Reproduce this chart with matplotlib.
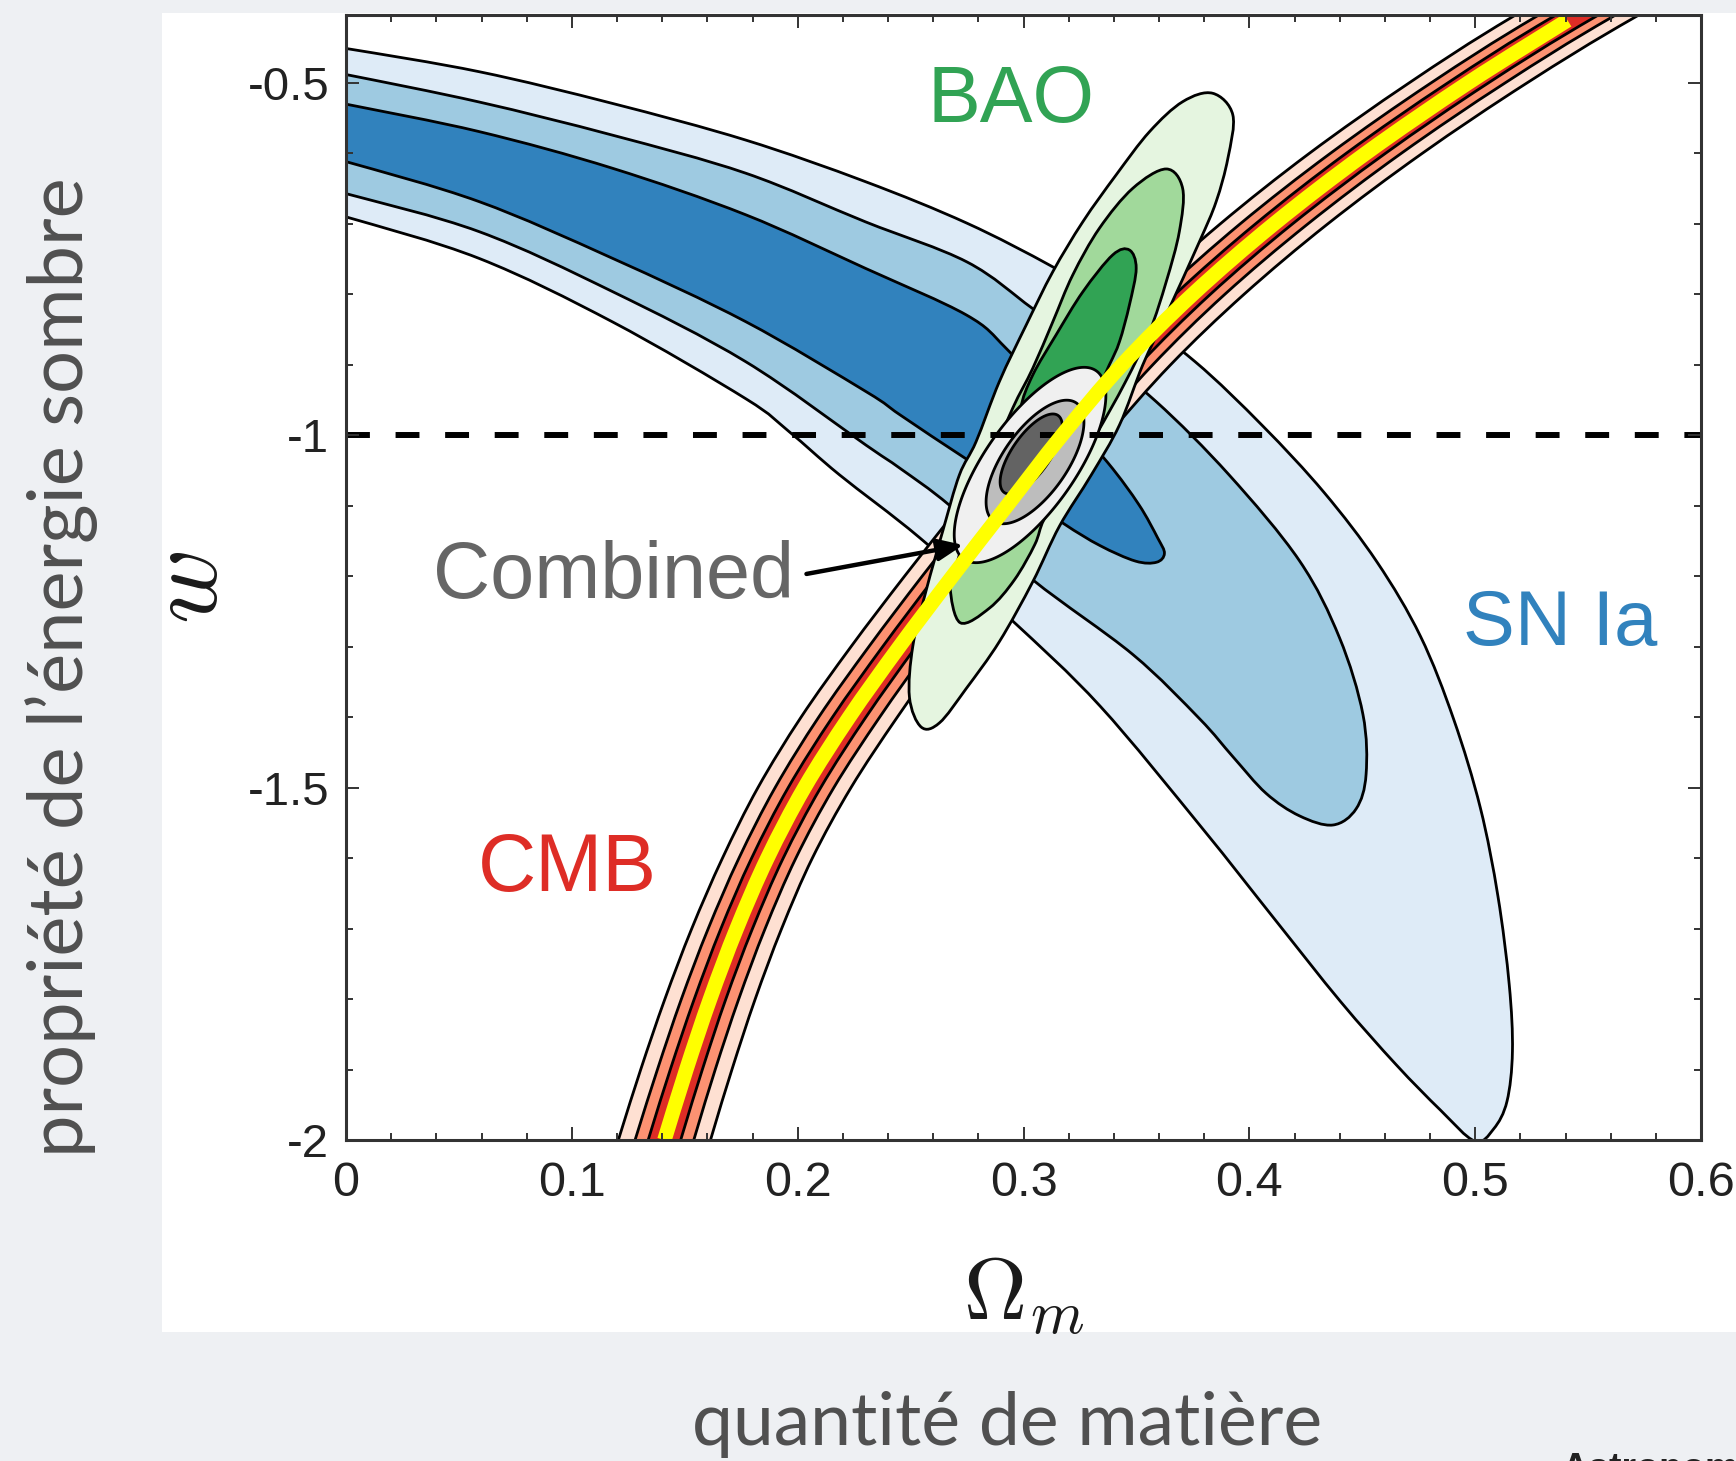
import numpy as np
import matplotlib
matplotlib.use("Agg")
import matplotlib.pyplot as plt
from matplotlib.path import Path
from matplotlib.patches import PathPatch, Rectangle, Polygon
from matplotlib.ticker import MultipleLocator

plt.rcParams['font.family'] = ['Liberation Sans', 'DejaVu Sans']
plt.rcParams['mathtext.fontset'] = 'cm'
plt.rcParams['axes.unicode_minus'] = False

W, H, DPI = 1736, 1461, 100

# ---------------- data (Omega_m, w) ----------------
# SN Ia contours: outline from the left edge along the top, round the tip, back along the bottom
sn99_om = [-0.03, 0.000, 0.059, 0.118, 0.177, 0.230, 0.275, 0.313, 0.345, 0.3761, 0.4060, 0.4331, 0.4566,
           0.4758, 0.4905, 0.5023, 0.5101, 0.5151, 0.5165, 0.5141, 0.5082, 0.4998, 0.4846, 0.4650, 0.4404,
           0.4110, 0.3790, 0.3339, 0.2941, 0.2539, 0.2185, 0.1963, 0.177, 0.118, 0.059, 0.000, -0.03]
sn99_w = [-0.437, -0.451, -0.484, -0.529, -0.581, -0.640, -0.699, -0.761, -0.822, -0.8958, -0.9869, -1.0811,
          -1.1801, -1.2853, -1.4031, -1.5287, -1.6544, -1.7800, -1.8743, -1.9450, -1.9842, -2.0015, -1.9575,
          -1.8931, -1.8036, -1.6858, -1.5570, -1.3842, -1.2602, -1.145, -1.056, -0.995, -0.948, -0.839,
          -0.749, -0.690, -0.665]

sn95_om = [-0.03, 0.000, 0.059, 0.118, 0.177, 0.230, 0.275, 0.304, 0.330, 0.3587, 0.391, 0.4222, 0.4399,
           0.4503, 0.4517, 0.4473, 0.437, 0.4222, 0.4074, 0.3927, 0.3779, 0.3484, 0.3041, 0.2675, 0.2454,
           0.2303, 0.177, 0.118, 0.059, 0.000, -0.03]
sn95_w = [-0.470, -0.488, -0.527, -0.574, -0.628, -0.697, -0.754, -0.820, -0.880, -0.952, -1.056, -1.178, -1.287,
          -1.396, -1.481, -1.530, -1.553, -1.540, -1.508, -1.456, -1.402, -1.311, -1.205, -1.100, -1.047,
          -1.014, -0.8955, -0.796, -0.711, -0.657, -0.633]

sn68_om = [-0.03, 0.000, 0.059, 0.118, 0.177, 0.230, 0.2746, 0.2923, 0.3152, 0.3373, 0.3511, 0.3594, 0.3624,
           0.3589, 0.3496, 0.3339, 0.3177, 0.2956, 0.2742, 0.2454, 0.2303, 0.177, 0.118, 0.059, 0.000, -0.03]
sn68_w = [-0.511, -0.530, -0.569, -0.621, -0.687, -0.763, -0.829, -0.8765, -0.9586, -1.0387, -1.0984, -1.1455,
          -1.1675, -1.1801, -1.1785, -1.1565, -1.1251, -1.0749, -1.0326, -0.9711, -0.938, -0.8387, -0.7488,
          -0.6684, -0.6116, -0.587]

# BAO contours (closed outlines)
bao99_om = [0.3838, 0.3927, 0.3905, 0.3853, 0.3779, 0.3632, 0.3528, 0.3425, 0.3300, 0.3159, 0.3041, 0.2893,
            0.2746, 0.2628, 0.2547, 0.2495, 0.2510, 0.2569, 0.2643, 0.2716, 0.2790, 0.2893, 0.3012, 0.3130,
            0.3263, 0.3410, 0.3558, 0.3705]
bao99_w = [-0.5146, -0.5454, -0.6069, -0.6684, -0.7252, -0.8292, -0.9002, -0.9853, -1.0563, -1.129, -1.2078,
           -1.2928, -1.3595, -1.408, -1.414, -1.3716, -1.299, -1.220, -1.1352, -1.0563, -1.009, -0.9238,
           -0.8434, -0.7677, -0.6968, -0.6305, -0.5691, -0.5265]

bao95_om = [0.3632, 0.3705, 0.3690, 0.3632, 0.3558, 0.3450, 0.3320, 0.3180, 0.3090, 0.3050, 0.2960, 0.2850,
            0.2720, 0.2675, 0.2705, 0.2780, 0.2850, 0.2952, 0.3041, 0.3130, 0.3218, 0.3336, 0.3484]
bao95_w = [-0.622, -0.650, -0.711, -0.782, -0.853, -0.925, -1.000, -1.075, -1.120, -1.155, -1.205, -1.245,
           -1.266, -1.2148, -1.1816, -1.100, -1.040, -0.9616, -0.9049, -0.8387, -0.7725, -0.7062, -0.6494]

bao68_om = [0.3469, 0.3499, 0.3469, 0.3425, 0.3380, 0.3300, 0.3150, 0.3020, 0.2990, 0.3041, 0.3144, 0.3263, 0.3395]
bao68_w = [-0.737, -0.763, -0.815, -0.867, -0.900, -0.950, -0.995, -0.990, -0.960, -0.9144, -0.8576, -0.7962, -0.744]

# CMB band: centre line and horizontal half-widths of each level
cmb_w = [-2.15, -2.0, -1.9, -1.8, -1.7, -1.6, -1.5, -1.4, -1.3, -1.2, -1.1, -1.0, -0.9, -0.8, -0.7, -0.6,
         -0.5, -0.404, -0.25]
cmb_om = [0.1268, 0.141, 0.1507, 0.1612, 0.1730, 0.1866, 0.2030, 0.2228, 0.2450, 0.2685, 0.2927, 0.3170,
          0.3436, 0.3749, 0.4109, 0.4515, 0.4968, 0.5449, 0.6304]
cmb_hw99 = [0.0208, 0.0204, 0.0202, 0.0200, 0.0199, 0.0199, 0.0206, 0.0213, 0.0214, 0.0212, 0.0208, 0.0205,
            0.0215, 0.0227, 0.0238, 0.0250, 0.0261, 0.0273, 0.0290]
cmb_hw95 = [0.0133, 0.0130, 0.0128, 0.0127, 0.0126, 0.0126, 0.0130, 0.0135, 0.0135, 0.0134, 0.0131, 0.0129,
            0.0136, 0.0142, 0.0150, 0.0157, 0.0164, 0.0170, 0.0180]
cmb_hw68 = [0.0073, 0.0072, 0.0071, 0.0070, 0.0070, 0.0070, 0.0072, 0.0074, 0.0074, 0.0074, 0.0073, 0.0071,
            0.0075, 0.0078, 0.0082, 0.0087, 0.0090, 0.0094, 0.0099]

# yellow highlighted curve
yellow_w = [-2.0, -1.9, -1.8, -1.7, -1.6, -1.5, -1.4, -1.3, -1.2, -1.1, -1.0, -0.9, -0.8, -0.7, -0.6, -0.5, -0.411]
yellow_om = [0.141, 0.1507, 0.1612, 0.1730, 0.1866, 0.2030, 0.2228, 0.2450, 0.2685, 0.2927, 0.3170, 0.3436,
             0.3749, 0.4109, 0.4515, 0.4968, 0.5409]

# Combined contours: centre, end of long axis, end of short axis (outer, middle, inner)
comb_c_om = [0.3029, 0.3051, 0.3034]
comb_c_w = [-1.0421, -1.0378, -1.0265]
comb_a_om = [0.3322, 0.3234, 0.3153]
comb_a_w = [-0.9084, -0.9541, -0.9718]
comb_b_om = [0.3193, 0.3167, 0.3103]
comb_b_w = [-1.0787, -1.0639, -1.0419]

w_lcdm = -1.0
arrow_tail = (0.2039, -1.1967)
arrow_head = (0.2733, -1.1556)

xticks = [0, 0.1, 0.2, 0.3, 0.4, 0.5, 0.6]
xtick_labels = ['0', '0.1', '0.2', '0.3', '0.4', '0.5', '0.6']
yticks = [-2, -1.5, -1, -0.5]
ytick_labels = ['-2', '-1.5', '-1', '-0.5']

# ---------------- colours ----------------
blues = ['#deebf7', '#9ecae1', '#3182bd']
greens = ['#e5f5e0', '#a1d99b', '#31a354']
reds = ['#fee0d2', '#fc9272', '#de2d26']
grays = ['#f0f0f0', '#bdbdbd', '#636363']


def smooth_path(pieces, close=True):
    """Catmull-Rom curves through each piece, pieces joined by straight segments."""
    verts, codes = [], []
    for k, pts in enumerate(pieces):
        pts = np.asarray(pts, float)
        n = len(pts)
        verts.append(pts[0])
        codes.append(Path.MOVETO if k == 0 else Path.LINETO)
        for i in range(n - 1):
            p1, p2 = pts[i], pts[i + 1]
            p0 = pts[i - 1] if i > 0 else p1
            p3 = pts[i + 2] if i + 2 < n else p2
            verts += [p1 + (p2 - p0) / 6.0, p2 - (p3 - p1) / 6.0, p2]
            codes += [Path.CURVE4] * 3
    if close:
        verts.append(pieces[0][0])
        codes.append(Path.CLOSEPOLY)
    return Path(verts, codes)


def closed_smooth(pts):
    pts = np.asarray(pts, float)
    n = len(pts)
    verts, codes = [pts[0]], [Path.MOVETO]
    for i in range(n):
        p0, p1, p2, p3 = pts[(i - 1) % n], pts[i], pts[(i + 1) % n], pts[(i + 2) % n]
        verts += [p1 + (p2 - p0) / 6.0, p2 - (p3 - p1) / 6.0, p2]
        codes += [Path.CURVE4] * 3
    verts.append(pts[0]); codes.append(Path.CLOSEPOLY)
    return Path(verts, codes)


fig = plt.figure(figsize=(W / DPI, H / DPI), dpi=DPI, facecolor='#eef0f3')
fig.patches.append(Rectangle((162 / W, 1 - 1332 / H), 1 - 162 / W, (1332 - 13) / H,
                             transform=fig.transFigure, facecolor='white', edgecolor='none', zorder=-5))
ax = fig.add_axes([346 / W, 1 - 1140 / H, (1701 - 346) / W, (1140 - 15) / H])
ax.set_zorder(1)
ax.set_xlim(0, 0.6)
ax.set_ylim(-2, -0.4035)

LW = 2.0
# SN Ia
for (om, ww), col, z in zip([(sn99_om, sn99_w), (sn95_om, sn95_w), (sn68_om, sn68_w)], blues, [1, 2, 3]):
    p = smooth_path([list(zip(om, ww))])
    ax.add_patch(PathPatch(p, facecolor=col, edgecolor='black', lw=LW, zorder=z))

# CMB
c = np.array(cmb_om)
cw = np.array(cmb_w)
for hw, col, z in zip([cmb_hw99, cmb_hw95, cmb_hw68], reds, [4, 5, 6]):
    hw = np.array(hw)
    left = np.column_stack([c - hw, cw])
    right = np.column_stack([c + hw, cw])[::-1]
    p = smooth_path([left, right])
    ax.add_patch(PathPatch(p, facecolor=col, edgecolor='black', lw=LW, zorder=z))

# BAO
for (om, ww), col, z in zip([(bao99_om, bao99_w), (bao95_om, bao95_w), (bao68_om, bao68_w)], greens, [7, 8, 9]):
    p = closed_smooth(list(zip(om, ww)))
    ax.add_patch(PathPatch(p, facecolor=col, edgecolor='black', lw=LW, zorder=z))

# Combined
t = np.linspace(0, 2 * np.pi, 240, endpoint=False)
for i, (col, z) in enumerate(zip(grays, [10, 11, 12])):
    cx, cy = comb_c_om[i], comb_c_w[i]
    ax_, ay_ = comb_a_om[i] - cx, comb_a_w[i] - cy
    bx_, by_ = comb_b_om[i] - cx, comb_b_w[i] - cy
    xs = cx + np.cos(t) * ax_ + np.sin(t) * bx_
    ys = cy + np.cos(t) * ay_ + np.sin(t) * by_
    ax.add_patch(Polygon(np.column_stack([xs, ys]), closed=True, facecolor=col, edgecolor='black',
                         lw=LW, zorder=z))

# w = -1 dashed line
ax.axhline(w_lcdm, color='black', lw=4.3, dashes=(4, 4.3), zorder=13)

# yellow curve
yp = smooth_path([list(zip(yellow_om, yellow_w))], close=False)
ax.add_patch(PathPatch(yp, facecolor='none', edgecolor='#ffff00', lw=10.5, capstyle='butt',
                       zorder=14, clip_on=False))

# arrow
ax.annotate('', xy=arrow_head, xytext=arrow_tail,
            arrowprops=dict(arrowstyle='-|>,head_length=0.7,head_width=0.3', lw=3.2, color='black',
                            shrinkA=0, shrinkB=0, mutation_scale=22), zorder=15)

# labels in the plot
ax.text(0.2573, -0.5553, 'BAO', color='#31a354', fontsize=57, ha='left', va='baseline', zorder=16)
ax.text(0.4947, -1.2982, 'SN Ia', color='#3182bd', fontsize=56, ha='left', va='baseline', zorder=16)
ax.text(0.0583, -1.6466, 'CMB', color='#de2d26', fontsize=58, ha='left', va='baseline', zorder=16)
ax.text(0.0385, -1.2308, 'Combined', color='#666666', fontsize=57, ha='left', va='baseline', zorder=16)

# ticks
ax.set_xticks(xticks)
ax.set_xticklabels(xtick_labels)
ax.set_yticks(yticks)
ax.set_yticklabels(ytick_labels)
ax.xaxis.set_minor_locator(MultipleLocator(0.02))
ax.yaxis.set_minor_locator(MultipleLocator(0.1))
ax.tick_params(which='both', direction='in', top=True, right=True, color='#333333', width=1.4)
ax.tick_params(which='major', length=9.4)
ax.tick_params(which='minor', length=5)
ax.tick_params(axis='x', labelsize=35, pad=15, labelcolor='#222222')
ax.tick_params(axis='y', labelsize=34, pad=12, labelcolor='#222222')
for s in ax.spines.values():
    s.set_linewidth(2.2)
    s.set_color('#333333')
    s.set_zorder(30)
ax.xaxis.set_zorder(29)
ax.yaxis.set_zorder(29)

# axis labels
fig.text(1024 / W, 1 - 1320 / H, r'$\Omega_m$', fontsize=63, ha='center', va='baseline', color='#1a1a1a')
fig.text(190 / W, 1 - 587 / H, r'$w$', fontsize=74, rotation=90, ha='center', va='center', color='#1a1a1a')

# outer labels (fitted to measured widths)
renderer = fig.canvas.get_renderer()
t1 = fig.text(1007 / W, 1 - 1445 / H, 'quantité de matière', family=['Lato', 'DejaVu Sans'],
              fontsize=48, ha='center', va='baseline', color='#505050')
bb = t1.get_window_extent(renderer)
t1.set_fontsize(48 * 631 / bb.width)
t2 = fig.text(62 / W, 1 - 667 / H, 'propriété de l’énergie sombre', family=['Lato', 'DejaVu Sans'],
              fontsize=48, rotation=90, ha='center', va='center', color='#505050')
bb = t2.get_window_extent(renderer)
t2.set_fontsize(48 * 980 / bb.height)

fig.text(1561 / W, 1 - 1480 / H, 'Astronomy', fontsize=27, fontweight='bold', color='#222222',
         ha='left', va='baseline')

fig.savefig('out.png', dpi=DPI, facecolor=fig.get_facecolor())
